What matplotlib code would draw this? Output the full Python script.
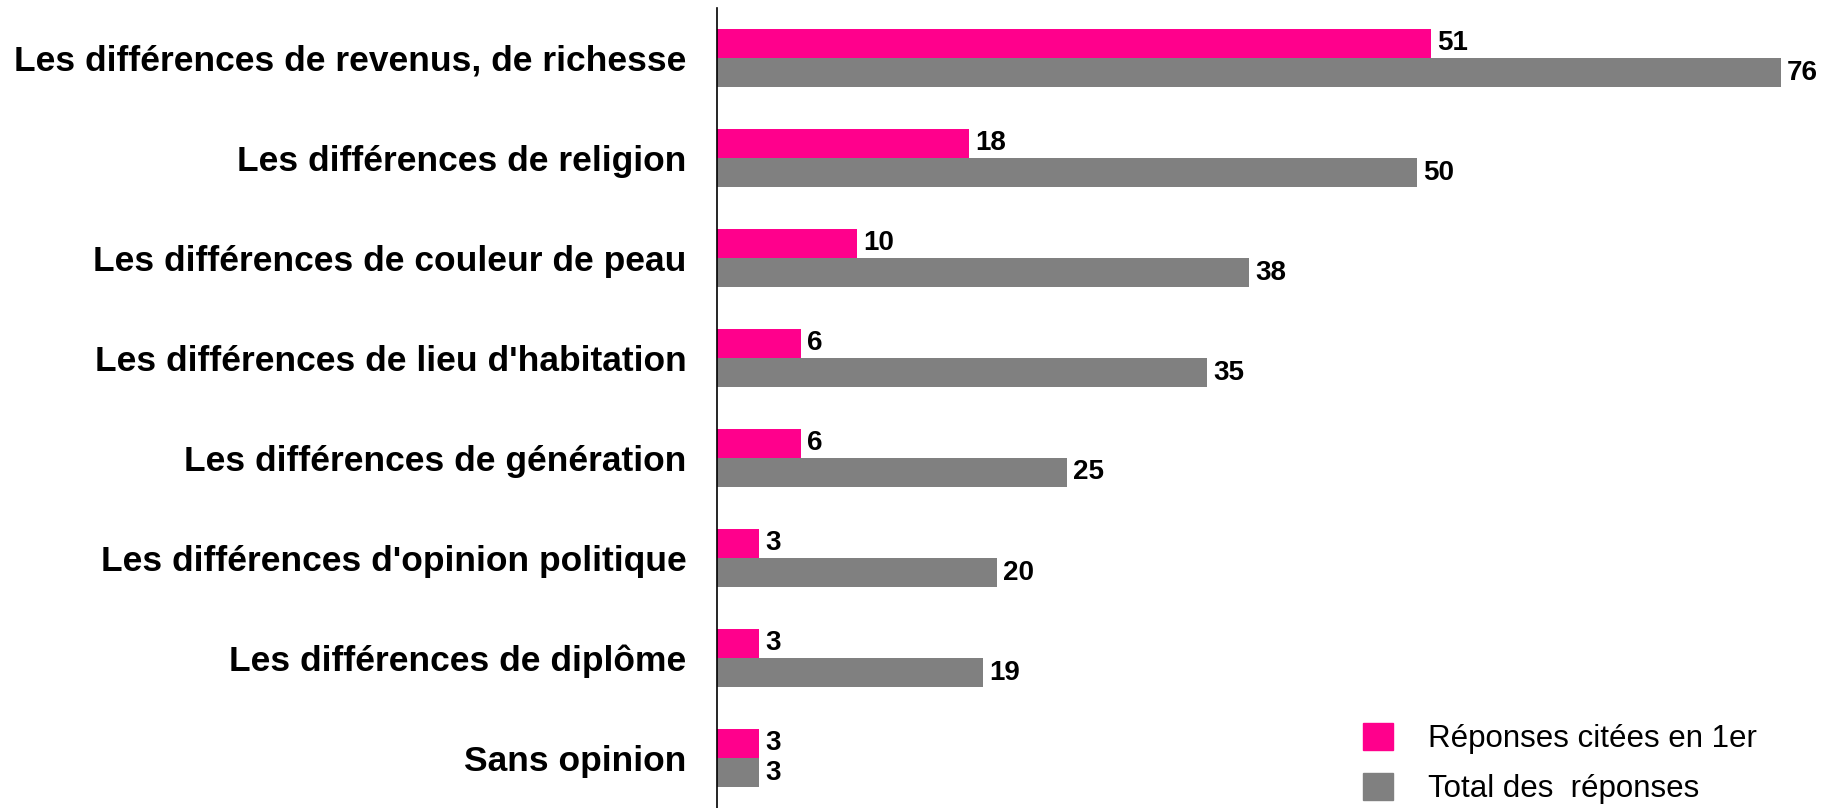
import numpy as np
import matplotlib.pyplot as plt
from matplotlib.patches import Patch

plt.rcParams['font.family'] = ['Liberation Sans', 'DejaVu Sans']

categories = [
  "Les différences de revenus, de richesse",
  "Les différences de religion",
  "Les différences de couleur de peau",
  "Les différences de lieu d'habitation",
  "Les différences de génération",
  "Les différences d'opinion politique",
  "Les différences de diplôme",
  "Sans opinion",
]
first_cited = [51, 18, 10, 6, 6, 3, 3, 3]
total = [76, 50, 38, 35, 25, 20, 19, 3]

pink = '#FF008C'
grey = '#808080'

fig = plt.figure(figsize=(18.32, 8.08), dpi=100)
ax = fig.add_axes([717/1832, 0, 1 - 717/1832, 800/808])

y = np.arange(len(categories))
h = 0.29
bars1 = ax.barh(y - h/2, first_cited, height=h, color=pink)
bars2 = ax.barh(y + h/2, total, height=h, color=grey)

for bars, vals in ((bars1, first_cited), (bars2, total)):
  for b, v in zip(bars, vals):
    ax.annotate(str(v), (b.get_width(), b.get_y() + b.get_height()/2),
                xytext=(6, 0), textcoords='offset pixels',
                va='center', ha='left', fontsize=20, fontweight='bold')

ax.set_xlim(0, (1832 - 717) / 14.0)
ax.set_ylim(7.5, -0.5)
ax.set_yticks(y)
ax.set_yticklabels(categories, fontsize=25.5, fontweight='bold')
ax.tick_params(axis='y', length=0, pad=22)
ax.set_xticks([])
for s in ('top', 'right', 'bottom'):
  ax.spines[s].set_visible(False)
ax.spines['left'].set_linewidth(1.2)

handles = [Patch(color=pink), Patch(color=grey)]
fig.legend(handles, ['Réponses citées en 1er', 'Total des  réponses'],
           loc='lower left', bbox_to_anchor=(1363/1832, 4/808), frameon=False,
           fontsize=22.5, handlelength=0.97, handleheight=0.94, handletextpad=1.1,
           labelspacing=0.6, borderpad=0, borderaxespad=0)

fig.savefig('out.png', dpi=100)
